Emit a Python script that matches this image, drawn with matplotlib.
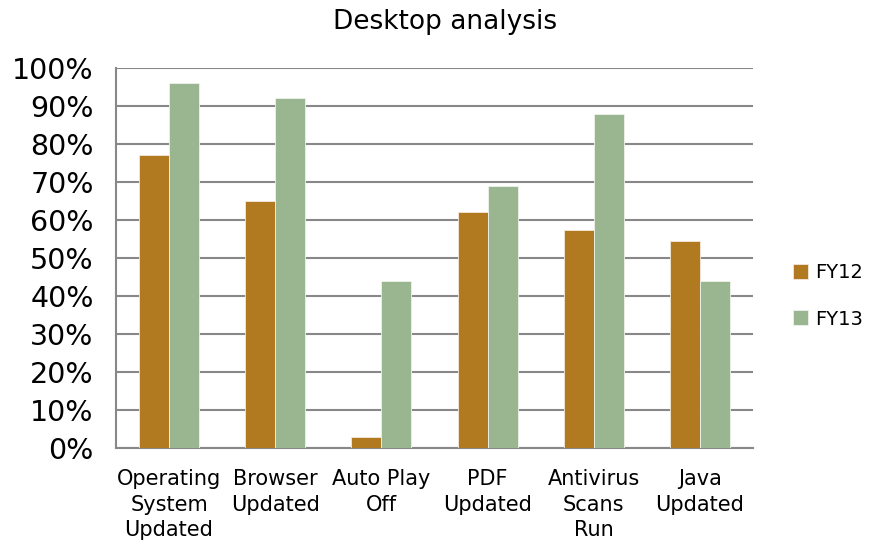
import numpy as np
import matplotlib
matplotlib.use("Agg")
import matplotlib.pyplot as plt
from matplotlib.ticker import PercentFormatter

categories = ["Operating\nSystem\nUpdated", "Browser\nUpdated", "Auto Play\nOff",
              "PDF\nUpdated", "Antivirus\nScans\nRun", "Java\nUpdated"]
fy12 = [77, 65, 3, 62, 57.5, 54.5]
fy13 = [96, 92, 44, 69, 88, 44]
series_names = ["FY12", "FY13"]
yticks = list(range(0, 101, 10))

c12 = "#b27a20"
c13 = "#9ab691"
grid_c = "#888888"

fig = plt.figure(figsize=(8.7, 5.41), dpi=100)
ax = fig.add_axes([0.1333, 0.1719, 0.7322, 0.7024])

x = np.arange(len(categories))
w = 0.283
ax.bar(x - w / 2, fy12, w, color=c12, edgecolor="#f3e9dc", linewidth=0.6, label=series_names[0], zorder=3)
ax.bar(x + w / 2, fy13, w, color=c13, edgecolor="#eef3ec", linewidth=0.6, label=series_names[1], zorder=3)

ax.set_xlim(-0.5, len(categories) - 0.5)
ax.set_ylim(0, 100)
ax.set_yticks(yticks)
ax.yaxis.set_major_formatter(PercentFormatter(decimals=0))
ax.yaxis.grid(True, color=grid_c, linewidth=1.5, zorder=0)
ax.set_axisbelow(True)

for s in ["top", "right"]:
    ax.spines[s].set_visible(False)
for s in ["left", "bottom"]:
    ax.spines[s].set_color(grid_c)
    ax.spines[s].set_linewidth(1.5)

ax.set_xticks(x)
ax.set_xticklabels(categories, fontsize=15, linespacing=1.36)
ax.tick_params(axis="x", length=0, pad=15)
ax.tick_params(axis="y", length=0, labelsize=20.5, pad=16)

fig.text(0.512, 0.96, "Desktop analysis", ha="center", va="center", fontsize=19)

leg = ax.legend(loc="center left", bbox_to_anchor=(1.035, 0.4), frameon=False,
                fontsize=14, handlelength=0.8, handleheight=0.8,
                handletextpad=0.35, labelspacing=1.4)

fig.savefig("out.png", dpi=100)
